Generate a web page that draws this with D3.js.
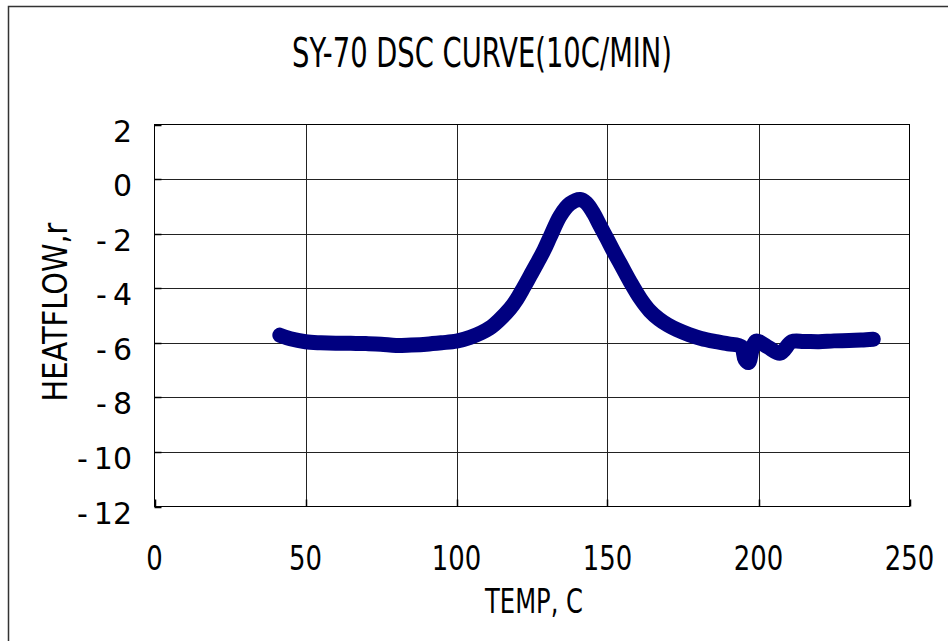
<!DOCTYPE html>
<html>
<head>
<meta charset="utf-8">
<script src="https://cdn.jsdelivr.net/npm/d3@7"></script>
<style>
  body { margin: 0; background: #fff; }
  text { font-family: "DejaVu Sans", sans-serif; fill: #000; }
</style>
</head>
<body>
<div id="container"></div>
<script>
/* CONSTANTS AND GLOBALS */
const width = 948,
    height = 641,
    margin = { top: 124.5, bottom: 134.5, left: 154.5, right: 38.5 };

// DATA
const temps = [41.5, 45, 50, 55, 60, 65, 70, 75, 80, 85, 90, 95, 100, 104.5, 108, 111, 114, 117.8, 120, 122.2,
    124.5, 126.6, 129, 131, 134.3, 137.6, 141, 143, 145.4, 147.5, 149.8, 152, 154.2, 157.5, 161, 164, 167, 170, 173, 177,
    181, 186, 190, 194.3, 195.5, 196.7, 198, 199.2, 203, 207.2, 211, 215, 220, 225, 230, 234, 238];
const heatflow = [-5.72, -5.85, -5.96, -6.0, -6.02, -6.02, -6.03, -6.05, -6.1, -6.08, -6.05, -6.0, -5.94, -5.8, -5.64, -5.46, -5.18, -4.74, -4.4, -3.98,
    -3.52, -3.1, -2.6, -2.12, -1.35, -0.9, -0.75, -0.88, -1.26, -1.7, -2.18, -2.65, -3.09, -3.76, -4.4, -4.83, -5.13, -5.35, -5.52, -5.7,
    -5.84, -5.96, -6.04, -6.14, -6.6, -6.72, -6.2, -5.94, -6.15, -6.38, -5.96, -5.95, -5.96, -5.93, -5.92, -5.9, -5.87];
const xTicks = [0, 50, 100, 150, 200, 250];
const yTicks = [2, 0, -2, -4, -6, -8, -10, -12];
const title = "SY-70 DSC CURVE(10C/MIN)";
const xTitle = "TEMP, C";
const yTitle = "HEATFLOW,r";

const points = temps.map((t, i) => ({ t, h: heatflow[i] }));

// SVG
const svg = d3.select("#container")
    .append("svg")
    .attr("width", width)
    .attr("height", height);

// squeeze a text to a given width
function fit(sel, w) {
    const len = sel.node().getComputedTextLength();
    const x = +sel.attr("x"), y = +sel.attr("y");
    sel.attr("x", 0).attr("y", 0)
        .attr("transform", `translate(${x},${y}) scale(${w / len},1)`);
}

// OUTER FRAME
svg.append("rect")
    .attr("x", 8.5).attr("y", 6.5)
    .attr("width", 980).attr("height", 700)
    .attr("fill", "none")
    .attr("stroke", "#333")
    .attr("stroke-width", 1.5);

// SCALES
const xScale = d3.scaleLinear()
    .domain([0, 250])
    .range([margin.left, width - margin.right]);

const yScale = d3.scaleLinear()
    .domain([-12, 2])
    .range([height - margin.bottom, margin.top]);

// GRID
svg.selectAll("line.vgrid")
    .data(xTicks.slice(1, -1))
    .join("line")
    .attr("class", "vgrid")
    .attr("x1", d => Math.round(xScale(d)) + 0.5).attr("x2", d => Math.round(xScale(d)) + 0.5)
    .attr("y1", yScale(2)).attr("y2", yScale(-12))
    .attr("stroke", "#222");

svg.selectAll("line.hgrid")
    .data(yTicks.slice(1, -1))
    .join("line")
    .attr("class", "hgrid")
    .attr("x1", xScale(0)).attr("x2", xScale(250))
    .attr("y1", d => Math.round(yScale(d)) + 0.5).attr("y2", d => Math.round(yScale(d)) + 0.5)
    .attr("stroke", "#222");

// PLOT BORDER
svg.append("rect")
    .attr("x", xScale(0)).attr("y", yScale(2))
    .attr("width", xScale(250) - xScale(0))
    .attr("height", yScale(-12) - yScale(2))
    .attr("fill", "none")
    .attr("stroke", "#000");

// INNER TICKS
svg.selectAll("line.ytick")
    .data(yTicks)
    .join("line")
    .attr("class", "ytick")
    .attr("x1", xScale(0)).attr("x2", xScale(0) + 7)
    .attr("y1", d => Math.round(yScale(d)) + 0.5).attr("y2", d => Math.round(yScale(d)) + 0.5)
    .attr("stroke", "#000").attr("stroke-width", 1.5);

svg.selectAll("line.xtick")
    .data(xTicks)
    .join("line")
    .attr("class", "xtick")
    .attr("x1", d => Math.round(xScale(d)) + 0.5).attr("x2", d => Math.round(xScale(d)) + 0.5)
    .attr("y1", yScale(-12)).attr("y2", yScale(-12) - 7)
    .attr("stroke", "#000").attr("stroke-width", 1.5);

// TICK LABELS
svg.selectAll("text.ylabel")
    .data(yTicks)
    .join("text")
    .attr("class", "ylabel")
    .attr("x", 132)
    .attr("y", d => yScale(d) + 17)
    .attr("text-anchor", "end")
    .attr("font-size", 30)
    .text(d => d < 0 ? "-\u2009" + Math.abs(d) : d);

svg.selectAll("text.xlabel")
    .data(xTicks)
    .join("text")
    .attr("class", "xlabel")
    .attr("x", d => xScale(d))
    .attr("y", 570)
    .attr("text-anchor", "middle")
    .attr("font-size", 34)
    .text(d => d)
    .each(function (d) {
        fit(d3.select(this), String(d).length * 16.5);
    });

// TITLES
const t = svg.append("text")
    .attr("x", 482).attr("y", 66.5)
    .attr("text-anchor", "middle")
    .attr("font-size", 41)
    .text(title);
fit(t, 380);

const xt = svg.append("text")
    .attr("x", 534).attr("y", 613)
    .attr("text-anchor", "middle")
    .attr("font-size", 33)
    .text(xTitle);
fit(xt, 98);

const yt = svg.append("text")
    .attr("x", 0).attr("y", 0)
    .attr("text-anchor", "middle")
    .attr("font-size", 33)
    .text(yTitle);
const yLen = yt.node().getComputedTextLength();
yt.attr("transform", `translate(67,312) rotate(-90) scale(${179 / yLen},1)`);

// CURVE
const line = d3.line()
    .x(d => xScale(d.t))
    .y(d => yScale(d.h))
    .curve(d3.curveCatmullRom.alpha(0.5));

svg.append("path")
    .datum(points)
    .attr("d", line)
    .attr("fill", "none")
    .attr("stroke", "#000080")
    .attr("stroke-width", 15)
    .attr("stroke-linejoin", "round")
    .attr("stroke-linecap", "round");
</script>
</body>
</html>
